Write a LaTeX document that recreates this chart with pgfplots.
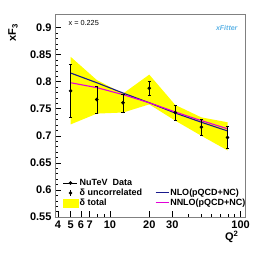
\documentclass[border=0pt]{standalone}
\usepackage{pgfplots}
\pgfplotsset{compat=1.18}
\usepackage{fontspec}
\setmainfont{Liberation Sans}
\definecolor{nlo}{RGB}{25,25,140}
\definecolor{nnlo}{RGB}{225,0,215}
\definecolor{band}{RGB}{255,255,0}
\definecolor{xfit}{RGB}{95,180,230}
\begin{document}
\begin{tikzpicture}
\path[use as bounding box] (-55pt,-36pt) rectangle (211pt,217pt);
\begin{axis}[
 at={(0,0)}, anchor=south west,
 scale only axis, width=190pt, height=203pt,
 xmode=log, xmin=3.8, xmax=108, ymin=0.55, ymax=0.925,
 xtick={4,5,6,7,10,20,30,100}, xticklabels={4,5,6,7,10,20,30,100},
 minor xtick={8,9,40,50,60,70,80,90},
 ytick={0.55,0.6,0.65,0.7,0.75,0.8,0.85,0.9},
 yticklabels={0.55,0.6,0.65,0.7,0.75,0.8,0.85,0.9},
 minor y tick num=4,
 tick align=inside, xtick pos=bottom, ytick pos=left,
 major tick length=6pt, minor tick length=3pt,
 axis line style={gray},
 tick style={black, line width=0.5pt},
 ticklabel style={font=\bfseries\fontsize{11}{13}\selectfont},
 /pgf/number format/assume math mode=true,
 legend columns=2,
 legend cell align=left,
 legend style={at={(0.042,0.192)}, anchor=north west, draw=none, fill=none,
   font=\bfseries\fontsize{9}{10}\selectfont, inner sep=0pt, row sep=0pt,
   /tikz/every even column/.append style={column sep=12pt},
   nodes={inner sep=1pt}},
]
% total uncertainty band
\addplot[fill=band, draw=none, forget plot] coordinates {
 (5,0.846) (7.94,0.803) (12.6,0.778) (20,0.813) (31.6,0.757) (50.1,0.734) (79.4,0.725)
 (79.4,0.673) (50.1,0.700) (31.6,0.728) (20,0.758) (12.6,0.743) (7.94,0.741) (5,0.721)} -- cycle;
% theory curves
\addplot[nlo, line width=1.1pt, forget plot] coordinates {
 (5,0.816) (7.94,0.798) (12.6,0.779) (20,0.761) (31.6,0.742) (50.1,0.725) (79.4,0.709)};
\addplot[nnlo, line width=1.1pt, forget plot] coordinates {
 (5,0.798) (7.94,0.789) (12.6,0.776) (20,0.761) (31.6,0.744) (50.1,0.728) (79.4,0.713)};
% data
\addplot[black, only marks, mark=*, mark size=1.6pt, forget plot,
 error bars/.cd, y dir=both, y explicit, error bar style={black, line width=0.6pt}]
 coordinates {
 (5,0.783) +- (0,0.0485)
 (7.94,0.767) +- (0,0.0245)
 (12.6,0.761) +- (0,0.0165)
 (20,0.788) +- (0,0.0135)
 (31.6,0.743) +- (0,0.014)
 (50.1,0.716) +- (0,0.015)
 (79.4,0.697) +- (0,0.020)};
% legend
\addlegendimage{legend image code/.code={\draw[black,line width=0.6pt] (0pt,0pt)--(14pt,0pt); \fill[black] (7pt,0pt) circle (1.6pt);}}
\addlegendentry{NuTeV\ \ Data}
\addlegendimage{empty legend}
\addlegendentry{}
\addlegendimage{legend image code/.code={\draw[black,line width=0.6pt] (7pt,-3pt)--(7pt,3pt); \fill[black] (7pt,0pt) circle (1.6pt);}}
\addlegendentry{δ uncorrelated}
\addlegendimage{legend image code/.code={\draw[nlo,line width=1.1pt] (0pt,0pt)--(13pt,0pt);}}
\addlegendentry{NLO(pQCD+NC)}
\addlegendimage{legend image code/.code={\fill[band] (0pt,-4pt) rectangle (15pt,4pt);}}
\addlegendentry{δ total}
\addlegendimage{legend image code/.code={\draw[nnlo,line width=1.1pt] (0pt,0pt)--(13pt,0pt);}}
\addlegendentry{NNLO(pQCD+NC)}
\node[anchor=west, font=\fontsize{7.3}{8}\selectfont] at (rel axis cs:0.053,0.954) {x = 0.225};
\node[font=\itshape\bfseries\fontsize{7}{8}\selectfont, text=xfit] at (rel axis cs:0.904,0.93) {xFitter};
\end{axis}
\node[rotate=90, font=\bfseries\fontsize{11}{13}\selectfont] at (-42pt,184pt) {xF$_{\mathbf{3}}$};
\node[font=\bfseries\fontsize{11}{13}\selectfont] at (176.7pt,-19.7pt) {Q$^{\mathbf{2}}$};
\end{tikzpicture}
\end{document}
